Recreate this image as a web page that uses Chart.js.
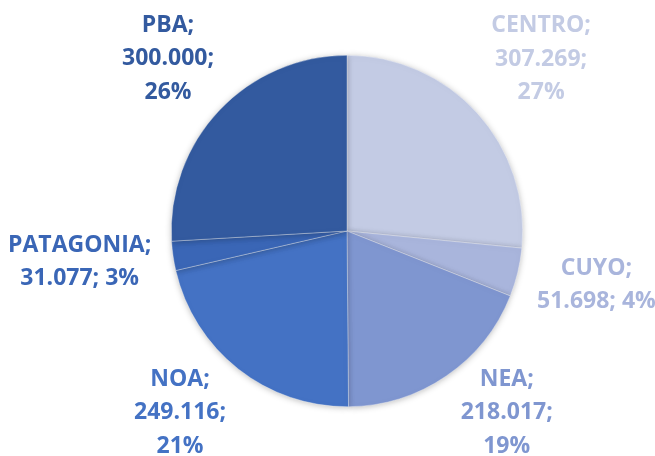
<!DOCTYPE html>
<html>
<head>
<meta charset="utf-8">
<script src="https://cdn.jsdelivr.net/npm/chart.js@4"></script>
<style>
  html, body { margin: 0; padding: 0; background: #fff; }
  #wrap { width: 655px; height: 456px; }
</style>
</head>
<body>
<div id="wrap"><canvas id="mycanvas" width="655" height="456"></canvas></div>
<script>
// regiones y valores (miles)
var regiones = ['CENTRO', 'CUYO', 'NEA', 'NOA', 'PATAGONIA', 'PBA'];
var valores = [307.269, 51.698, 218.017, 249.116, 31.077, 300.000];
var textos = ['307.269', '51.698', '218.017', '249.116', '31.077', '300.000'];
var porcentajes = ['27%', '4%', '19%', '21%', '3%', '26%'];
var colores = ['#c3cbe4', '#a9b5dc', '#7f96d0', '#4472c4', '#3a66b6', '#335a9f'];

// como se parten las etiquetas en renglones
function renglones(i) {
	if (regiones[i] == 'CUYO' || regiones[i] == 'PATAGONIA') {
		return [regiones[i] + ';', textos[i] + '; ' + porcentajes[i]];
	}
	return [regiones[i] + ';', textos[i] + ';', porcentajes[i]];
}

var sombra = {
	id: 'sombra',
	beforeDatasetDraw: function(chart) {
		var ctx = chart.ctx;
		ctx.save();
		ctx.shadowColor = 'rgba(0,0,0,0.25)';
		ctx.shadowBlur = 6;
		ctx.shadowOffsetX = 0;
		ctx.shadowOffsetY = 1;
	},
	afterDatasetDraw: function(chart) {
		chart.ctx.restore();
	}
};

// etiquetas por fuera del sector: distancia del centro del texto y un pequeño giro (grados)
var etiquetas = {
	id: 'etiquetas',
	dist: [260, 255, 241, 246, 269, 249],
	giro: [0.5, -1.6, -7.1, 4.5, 1.8, 0.7],
	afterDraw: function(chart) {
		var ctx = chart.ctx;
		var arcs = chart.getDatasetMeta(0).data;
		var alto = 33.5;
		ctx.save();
		ctx.font = 'bold 23px "Open Sans"';
		ctx.textAlign = 'center';
		ctx.textBaseline = 'middle';
		for (var i = 0; i < arcs.length; i++) {
			var a = arcs[i];
			var mid = (a.startAngle + a.endAngle) / 2 + this.giro[i] * Math.PI / 180;
			var lineas = renglones(i);
			var h = lineas.length * alto;
			var cx = a.x + Math.cos(mid) * this.dist[i];
			var cy = a.y + Math.sin(mid) * this.dist[i];
			ctx.fillStyle = colores[i];
			for (var j = 0; j < lineas.length; j++) {
				ctx.fillText(lineas[j], cx, cy - h / 2 + alto / 2 + j * alto + 1);
			}
		}
		ctx.restore();
	}
};

var ctx = document.getElementById('mycanvas');

var pieGraph = new Chart(ctx, {
	type: 'pie',
	data: {
		labels: regiones,
		datasets: [{
			data: valores,
			backgroundColor: colores,
			borderColor: 'rgba(255,255,255,0.55)',
			borderWidth: 0.6
		}]
	},
	options: {
		responsive: false,
		animation: false,
		layout: { padding: { top: 55, bottom: 49, left: 171, right: 132 } },
		plugins: {
			legend: { display: false },
			tooltip: { enabled: false }
		}
	},
	plugins: [sombra, etiquetas]
});
</script>
</body>
</html>
